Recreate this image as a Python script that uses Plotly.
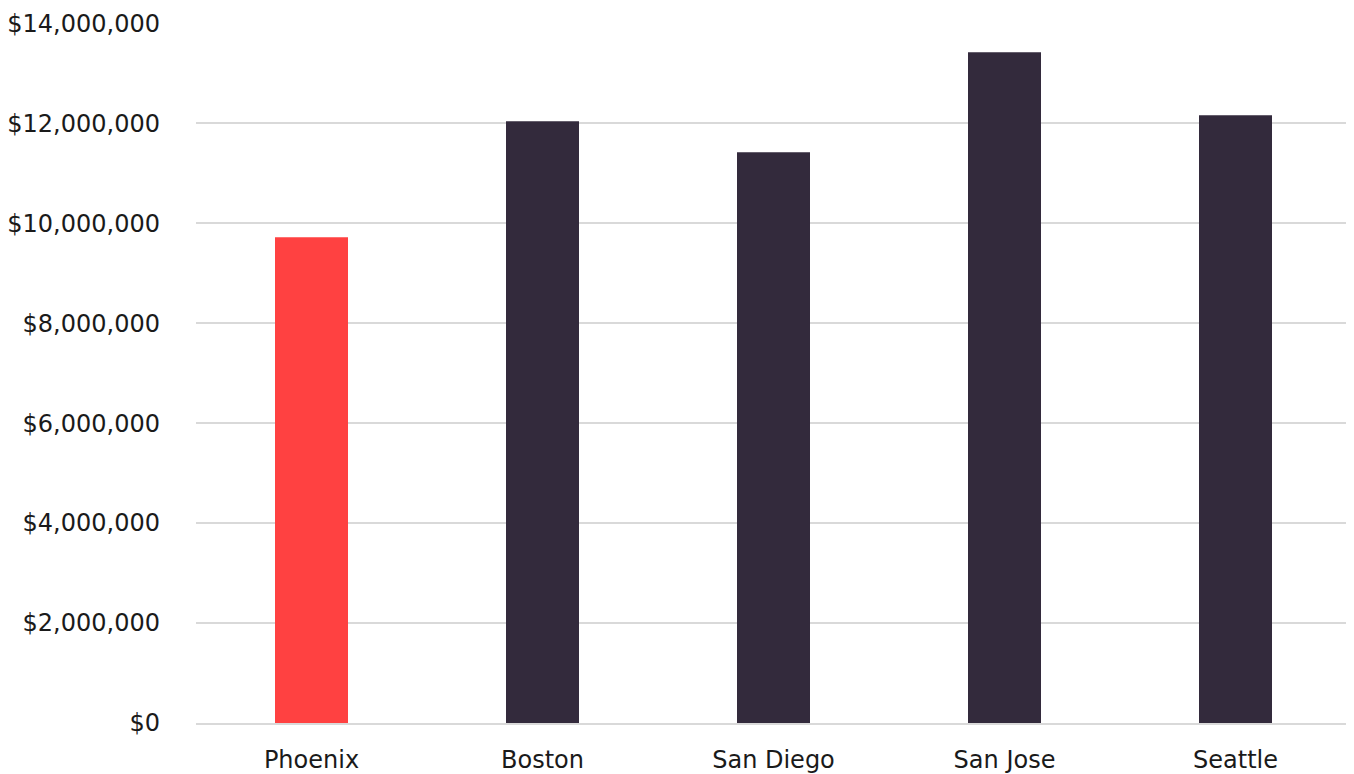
import plotly.graph_objects as go

cities = ["Phoenix", "Boston", "San Diego", "San Jose", "Seattle"]
values = [9720000, 12040000, 11420000, 13420000, 12160000]
colors = ["#FF4141", "#332A3C", "#332A3C", "#332A3C", "#332A3C"]
y_ticks = [0, 2000000, 4000000, 6000000, 8000000, 10000000, 12000000, 14000000]
y_labels = ["$0", "$2,000,000", "$4,000,000", "$6,000,000", "$8,000,000",
            "$10,000,000", "$12,000,000", "$14,000,000"]

fig = go.Figure(go.Bar(x=cities, y=values, marker_color=colors, marker_line_width=0))

fig.update_layout(
    width=1346, height=766,
    margin=dict(l=188, r=3, t=15, b=51),
    paper_bgcolor="white", plot_bgcolor="white",
    bargap=0.684,
    showlegend=False,
    font=dict(family="DejaVu Sans, sans-serif", size=24, color="#1a1a1a"),
)
fig.update_yaxes(
    range=[0, 14005000], tickvals=y_ticks, ticktext=y_labels,
    showgrid=True, gridcolor="#D9D9D9", gridwidth=2,
    zeroline=False, showline=False, automargin=False,
    ticks="", ticklabelstandoff=35,
    tickfont=dict(size=24),
)
fig.update_xaxes(
    showline=True, linecolor="#D9D9D9", linewidth=2, automargin=False,
    ticks="", ticklabelstandoff=14,
    tickfont=dict(size=24),
)

fig.write_html("out.html")
